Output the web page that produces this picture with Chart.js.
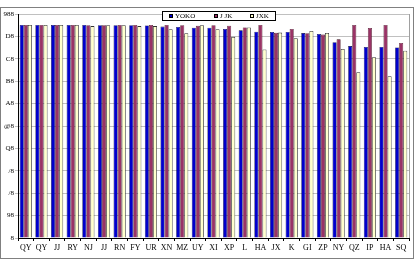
<!DOCTYPE html>
<html>
<head>
<meta charset="utf-8">
<script src="https://cdn.jsdelivr.net/npm/chart.js@4"></script>
<style>
  body { margin: 0; background: #fff; }
  canvas { display: block; }
</style>
</head>
<body>
<canvas id="barChart" width="414" height="260"></canvas>
<script>
// カテゴリと系列データ
const categories = ['QY', 'QY', 'JJ', 'RY', 'NJ', 'JJ', 'RN', 'FY', 'UR', 'XN', 'MZ', 'UY', 'XI', 'XP', 'L', 'HA', 'JX', 'K', 'GI', 'ZP', 'NY', 'QZ', 'IP', 'HA', 'SQ'];
const yTickLabels = ['8', '98', '/8', '/8', 'Q8', '@8', 'A8', 'B8', 'C8', 'D8', '988'];
const seriesNames = ['YOKO', 'J JK', 'JXK'];
const blueValues = [95.1, 95.1, 95.1, 95.1, 95.1, 95.0, 95.0, 95.0, 94.9, 94.4, 94.2, 93.9, 93.9, 93.3, 92.7, 92.1, 92.0, 92.0, 91.5, 91.1, 87.4, 85.7, 85.3, 85.3, 85.1];
const redValues = [95.1, 95.1, 95.1, 95.1, 95.0, 95.0, 95.1, 95.1, 95.1, 95.1, 95.0, 94.7, 95.0, 94.8, 94.0, 95.1, 91.6, 93.3, 91.4, 90.8, 88.7, 95.1, 93.8, 95.1, 87.1];
const yellowValues = [95.1, 95.1, 95.1, 95.1, 94.6, 95.0, 95.0, 94.6, 94.6, 93.2, 91.4, 95.0, 93.2, 89.8, 94.0, 84.2, 91.7, 89.2, 92.4, 91.5, 84.4, 74.0, 80.7, 72.2, 83.6];

const ctx = document.getElementById('barChart').getContext('2d');

// 枠線と凡例を描くプラグイン
const framePlugin = {
    id: 'frame',
    beforeDraw(chart) {
        const c = chart.ctx;
        const a = chart.chartArea;
        c.save();
        c.strokeStyle = '#808080';
        c.lineWidth = 1;
        c.strokeRect(0.5, 7.5, 413, 251);
        c.strokeStyle = '#a0a0a0';
        c.strokeRect(Math.round(a.left) + 0.5, Math.round(a.top) + 0.5, Math.round(a.right - a.left), Math.round(a.bottom - a.top));
        c.restore();
    },
    afterDraw(chart) {
        const c = chart.ctx;
        c.save();
        c.fillStyle = '#fff';
        c.fillRect(162, 12, 113, 8);
        c.strokeStyle = '#000';
        c.lineWidth = 1;
        c.strokeRect(162.5, 11.5, 113, 9);
        c.font = '7px "Liberation Serif"';
        c.textBaseline = 'middle';
        const xs = [169, 214, 250];
        chart.data.datasets.forEach((ds, i) => {
            c.fillStyle = ds.backgroundColor;
            c.fillRect(xs[i], 14, 4, 4);
            c.strokeStyle = '#000';
            c.strokeRect(xs[i] + 0.5, 14.5, 3, 3);
            c.fillStyle = '#000';
            c.fillText(ds.label, xs[i] + 6, 16.5);
        });
        c.restore();
    }
};

const chart = new Chart(ctx, {
    type: 'bar',
    data: {
        labels: categories,
        datasets: [{
            label: seriesNames[0],
            data: blueValues,
            backgroundColor: '#0000cc',
            borderColor: '#000033',
            borderWidth: 0.6
        }, {
            label: seriesNames[1],
            data: redValues,
            backgroundColor: '#993366',
            borderColor: '#330011',
            borderWidth: 0.6
        }, {
            label: seriesNames[2],
            data: yellowValues,
            backgroundColor: '#ffffcc',
            borderColor: '#333333',
            borderWidth: 0.8
        }]
    },
    options: {
        responsive: false,
        animation: false,
        layout: { padding: { top: 14, right: 5, left: 1, bottom: 0 } },
        datasets: { bar: { categoryPercentage: 0.78, barPercentage: 1.0 } },
        plugins: {
            legend: { display: false },
            tooltip: { enabled: false }
        },
        scales: {
            x: {
                grid: { display: true, drawOnChartArea: false, offset: true, tickLength: 3, color: '#000' },
                border: { color: '#000' },
                ticks: {
                    color: '#000',
                    font: { family: 'Liberation Serif', size: 8 },
                    maxRotation: 0,
                    autoSkip: false,
                    padding: 2
                },
                afterFit: s => { s.height = 22; }
            },
            y: {
                min: 0,
                max: 100,
                grid: { color: '#c0c0c0', tickLength: 3 },
                border: { color: '#000' },
                ticks: {
                    stepSize: 10,
                    color: '#000',
                    padding: 1,
                    font: { family: 'Liberation Serif', size: 7 },
                    callback: (v, i) => yTickLabels[i]
                },
                afterFit: s => { s.width = 17; }
            }
        }
    },
    plugins: [framePlugin]
});
</script>
</body>
</html>
